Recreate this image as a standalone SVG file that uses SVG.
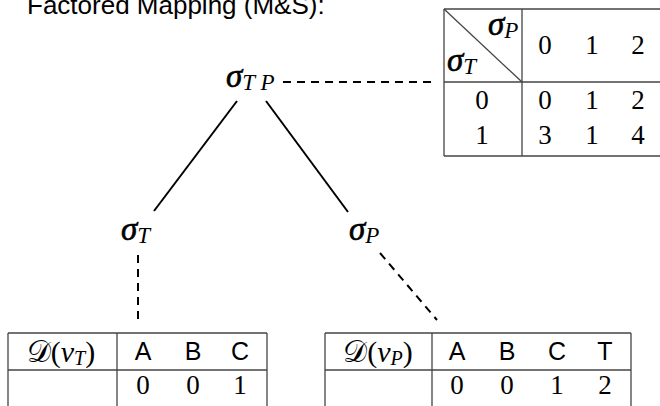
<svg xmlns="http://www.w3.org/2000/svg" width="660" height="406" viewBox="0 0 660 406">
<style>
.title{font-family:"Liberation Sans",Arial,sans-serif;font-size:26px;fill:#000}
.m{font-family:"Liberation Serif","Times New Roman",serif;font-style:italic;fill:#000}
.num{font-family:"Liberation Serif","Times New Roman",serif;font-size:27px;fill:#000;text-anchor:middle}
.sans{font-family:"Liberation Sans",Arial,sans-serif;font-size:25px;fill:#000;text-anchor:middle}
.rm{font-family:"Liberation Serif","Times New Roman",serif;font-style:normal}
.grid{stroke:#444;stroke-width:1.3;fill:none}
.solid{stroke:#000;stroke-width:2;fill:none}
.dash{stroke:#000;stroke-width:2;fill:none;stroke-dasharray:8,6}
.sig{stroke:#000;stroke-width:0.6}
</style>
<rect width="660" height="406" fill="#fff"/>
<text class="title" x="27" y="14">Factored Mapping (M&amp;S):</text>

<g id="connectors">
<line class="solid" x1="237" y1="101" x2="154" y2="211"/>
<line class="solid" x1="266" y1="101" x2="348" y2="212"/>
<line class="dash" x1="283" y1="82" x2="432" y2="82"/>
<line class="dash" x1="138" y1="255" x2="138" y2="320"/>
<line class="dash" x1="380" y1="253" x2="437" y2="320"/>
</g>

<g id="node-sigmaTP">
<text class="m" x="226" y="87" font-size="33"><tspan class="sig">σ</tspan><tspan font-size="23" dy="3">T P</tspan></text>
</g>
<g id="node-sigmaT">
<text class="m" x="121" y="240" font-size="33"><tspan class="sig">σ</tspan><tspan font-size="23" dy="3">T</tspan></text>
</g>
<g id="node-sigmaP">
<text class="m" x="349" y="240" font-size="33"><tspan class="sig">σ</tspan><tspan font-size="23" dy="3">P</tspan></text>
</g>

<g id="table-TP">
<line class="grid" x1="444" y1="9" x2="660" y2="9"/>
<line class="grid" x1="444" y1="82" x2="660" y2="82"/>
<line class="grid" x1="444" y1="156" x2="660" y2="156"/>
<line class="grid" x1="444" y1="9" x2="444" y2="156"/>
<line class="grid" x1="522" y1="9" x2="522" y2="156"/>
<line class="grid" x1="444" y1="9" x2="522" y2="82"/>
<text class="m" x="488" y="35" font-size="33"><tspan class="sig">σ</tspan><tspan font-size="23" dy="3">P</tspan></text>
<text class="m" x="447" y="71" font-size="33"><tspan class="sig">σ</tspan><tspan font-size="23" dy="3">T</tspan></text>
<text class="num" x="545" y="54">0</text>
<text class="num" x="592" y="54">1</text>
<text class="num" x="638" y="54">2</text>
<text class="num" x="482" y="109">0</text>
<text class="num" x="545" y="109">0</text>
<text class="num" x="592" y="109">1</text>
<text class="num" x="638" y="109">2</text>
<text class="num" x="482" y="144">1</text>
<text class="num" x="545" y="144">3</text>
<text class="num" x="592" y="144">1</text>
<text class="num" x="638" y="144">4</text>
</g>

<g id="table-vT">
<line class="grid" x1="8" y1="333" x2="267" y2="333"/>
<line class="grid" x1="8" y1="370" x2="267" y2="370"/>
<line class="grid" x1="8" y1="333" x2="8" y2="406"/>
<line class="grid" x1="117" y1="333" x2="117" y2="406"/>
<line class="grid" x1="267" y1="333" x2="267" y2="406"/>
<text class="m" x="61" y="362" font-size="30" text-anchor="middle"><tspan class="rm">𝒟(</tspan>v<tspan font-size="20" dy="3">T</tspan><tspan class="rm" dy="-3">)</tspan></text>
<text class="sans" x="143" y="360">A</text>
<text class="sans" x="193" y="360">B</text>
<text class="sans" x="240" y="360">C</text>
<text class="num" x="143" y="394">0</text>
<text class="num" x="193" y="394">0</text>
<text class="num" x="240" y="394">1</text>
</g>

<g id="table-vP">
<line class="grid" x1="325" y1="333" x2="631" y2="333"/>
<line class="grid" x1="325" y1="370" x2="631" y2="370"/>
<line class="grid" x1="325" y1="333" x2="325" y2="406"/>
<line class="grid" x1="432" y1="333" x2="432" y2="406"/>
<line class="grid" x1="631" y1="333" x2="631" y2="406"/>
<text class="m" x="378" y="362" font-size="30" text-anchor="middle"><tspan class="rm">𝒟(</tspan>v<tspan font-size="20" dy="3">P</tspan><tspan class="rm" dy="-3">)</tspan></text>
<text class="sans" x="457" y="360">A</text>
<text class="sans" x="507" y="360">B</text>
<text class="sans" x="557" y="360">C</text>
<text class="sans" x="605" y="360">T</text>
<text class="num" x="457" y="394">0</text>
<text class="num" x="507" y="394">0</text>
<text class="num" x="557" y="394">1</text>
<text class="num" x="605" y="394">2</text>
</g>
</svg>
